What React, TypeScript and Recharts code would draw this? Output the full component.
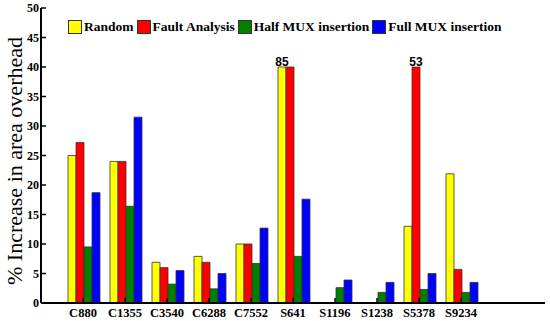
import { Bar, BarChart, LabelList, Legend, XAxis, YAxis } from 'recharts';

const circuits = ['C880', 'C1355', 'C3540', 'C6288', 'C7552', 'S641', 'S1196', 'S1238', 'S5378', 'S9234'];
// bars above 40 are cut at 40 in the figure, the real value is written on top
const random = [25, 24, 6.9, 7.9, 10, 40, 0, 0, 13, 21.9];
const faultAnalysis = [27.2, 24, 6, 6.9, 10, 40, 0, 0, 40, 5.7];
const halfMux = [9.5, 16.4, 3.2, 2.4, 6.7, 7.9, 2.6, 1.8, 2.3, 1.8];
const fullMux = [18.7, 31.5, 5.5, 5, 12.7, 17.6, 3.9, 3.5, 5, 3.5];
const randomNotes = ['', '', '', '', '', '85', '', '', '', ''];
const faultNotes = ['', '', '', '', '', '', '', '', '53', ''];
const yTicks = [0, 5, 10, 15, 20, 25, 30, 35, 40, 45, 50];

const series = [
  { key: 'random', name: 'Random', color: '#ffff00' },
  { key: 'fault', name: 'Fault Analysis', color: '#ff0000' },
  { key: 'half', name: 'Half MUX insertion', color: '#008000' },
  { key: 'full', name: 'Full MUX insertion', color: '#0000ff' },
];

const data = circuits.map((name, i) => ({
  name,
  random: random[i],
  fault: faultAnalysis[i],
  half: halfMux[i],
  full: fullMux[i],
  randomNote: randomNotes[i] || undefined,
  faultNote: faultNotes[i] || undefined,
}));

const serif = '"Liberation Serif", "Times New Roman", serif';
const tickStyle = { fontFamily: serif, fontWeight: 700, fill: '#000' };
const axisLine = { stroke: '#000', strokeWidth: 2 };
const tickLine = { stroke: '#000', strokeWidth: 1.5 };
const xPad = { left: 21, right: 63 };

// legend kept in series order (Recharts would sort it by name)
function LegendBox() {
  return (
    <div style={{ display: 'flex', alignItems: 'center', fontFamily: serif, fontWeight: 700, fontSize: 13.5, color: '#000' }}>
      {series.map((s, i) => (
        <div key={s.key} style={{ display: 'flex', alignItems: 'center', marginLeft: i === 0 ? 0 : 3 }}>
          <span style={{ width: 12, height: 12, background: s.color, border: '1px solid #333', marginRight: 2 }} />
          <span style={{ whiteSpace: 'nowrap' }}>{s.name}</span>
        </div>
      ))}
    </div>
  );
}

const noteStyle = { fontFamily: '"Liberation Sans", Arial, sans-serif', fontSize: 12, fontWeight: 700, fill: '#000' };

export default function App() {
  return (
    <div style={{ position: 'absolute', left: 0, top: 0, width: 550, height: 321, background: '#fff' }}>
      <BarChart
        width={550}
        height={321}
        data={data}
        margin={{ top: 8, right: 5, bottom: 0, left: 0 }}
        barCategoryGap={6}
        barGap={0}
      >
        <XAxis
          dataKey="name"
          interval={0}
          padding={xPad}
          height={18}
          tickSize={-5}
          tickMargin={10}
          tick={{ ...tickStyle, fontSize: 12.5 }}
          axisLine={axisLine}
          tickLine={tickLine}
        />
        <XAxis
          xAxisId="top"
          dataKey="name"
          orientation="top"
          interval={0}
          padding={xPad}
          height={0}
          tickSize={-5}
          tick={false}
          axisLine={axisLine}
          tickLine={tickLine}
        />
        <YAxis
          width={41}
          domain={[0, 50]}
          ticks={yTicks}
          interval={0}
          tickSize={-5}
          tickMargin={7}
          tick={{ ...tickStyle, fontSize: 12 }}
          axisLine={axisLine}
          tickLine={tickLine}
        />
        <YAxis
          yAxisId="right"
          orientation="right"
          width={0}
          domain={[0, 50]}
          ticks={yTicks}
          interval={0}
          tickSize={-5}
          tick={false}
          axisLine={axisLine}
          tickLine={tickLine}
        />
        <Legend
          verticalAlign="middle"
          align="center"
          content={<LegendBox />}
          wrapperStyle={{ left: 68, top: 19, width: 'auto' }}
        />
        <Bar dataKey="random" name="Random" fill="#ffff00" stroke="#333" strokeWidth={0.8} isAnimationActive={false}>
          <LabelList dataKey="randomNote" position="top" offset={1} style={noteStyle} />
        </Bar>
        <Bar dataKey="fault" name="Fault Analysis" fill="#ff0000" stroke="#333" strokeWidth={0.8} isAnimationActive={false}>
          <LabelList dataKey="faultNote" position="top" offset={1} style={noteStyle} />
        </Bar>
        <Bar dataKey="half" name="Half MUX insertion" fill="#008000" stroke="#333" strokeWidth={0.8} isAnimationActive={false} />
        <Bar dataKey="full" name="Full MUX insertion" fill="#0000ff" stroke="#333" strokeWidth={0.8} isAnimationActive={false} />
      </BarChart>
      <svg width={550} height={321} style={{ position: 'absolute', left: 0, top: 0, pointerEvents: 'none' }}>
        <text
          transform="translate(22,161) rotate(-90)"
          textAnchor="middle"
          fontFamily={serif}
          fontSize={22}
          fill="#000"
        >
          % Increase in area overhead
        </text>
      </svg>
    </div>
  );
}
